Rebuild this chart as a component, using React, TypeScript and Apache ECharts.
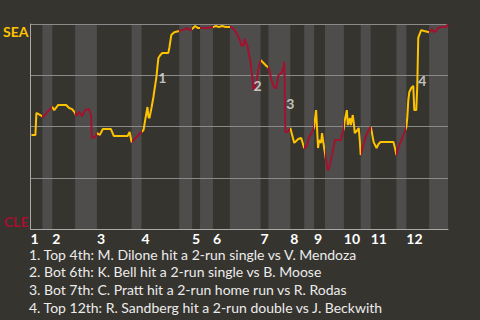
import React, { useEffect, useRef } from "react";
import * as echarts from "echarts";

// Game progress units (0..421) and SEA win probability (%)
const inningStarts = [0, 22, 67, 112, 163, 184, 232, 262, 286, 316, 343, 379];
const bottomStarts = [12, 45, 102, 150, 171, 201, 240, 276, 297, 333, 369, 402];
const gameEnd = 421;
const inningLabels = ["1", "2", "3", "4", "5", "6", "7", "8", "9", "10", "11", "12"];

const progress = [
  1, 5, 6, 10, 13, 17, 22,
  24, 28, 36, 39, 42, 45,
  46, 49, 52, 55, 59, 61, 62, 65, 66,
  67, 70, 73, 81, 84, 98, 100, 102,
  107, 111,
  114, 116, 118, 119, 120, 122, 124, 125, 127, 128, 129, 131, 133, 139, 140, 142, 145, 150,
  153, 158, 161, 163,
  166, 169, 171,
  178, 184,
  187, 190, 193, 197, 201,
  203, 208, 211, 213, 215, 216, 219, 221, 222, 223, 224, 225, 227, 229, 230, 232,
  235, 238, 240,
  243, 245, 246, 248, 250, 253, 255, 256, 257, 259, 261, 262,
  266, 270, 273, 276,
  278, 281, 285, 286,
  287, 288, 290, 291, 293, 294, 296,
  298, 300, 301, 303, 305, 307, 313, 315, 316,
  317, 319, 320, 322, 323, 325, 326, 327, 329, 331, 332, 333,
  335, 338, 341, 343,
  344, 346, 349, 351, 353, 366, 368, 369,
  371, 375, 378, 379,
  380, 381, 382, 384, 386, 387, 389, 390, 391, 392, 394, 397, 402,
  405, 407, 409, 411, 413, 419, 421,
];

const winProb = [
  45.9, 45.9, 56.6, 55.6, 54.6, 57.1, 59.5,
  58, 60.5, 60.5, 59, 58.5, 56.6,
  55.1, 57.1, 55.1, 58, 58.5, 55.6, 44.4, 44.9, 45.4,
  46.8, 45.9, 48.8, 48.8, 45.4, 45.4, 47.3, 42.4,
  44.9, 46.8,
  48.3, 54.1, 59.5, 54.6, 54.1, 59, 64.4, 67.8, 74.1, 79, 83.4, 84.9, 85.9, 85.9, 88.3, 94.6, 96, 96.6,
  97, 98, 97, 97.6,
  99, 98, 98,
  98, 98.5,
  99, 98.5, 99, 98.5, 98.5,
  98.5, 95.6, 92.2, 89.3, 89.8, 92.7, 88.8, 83.9, 81, 76.6, 72.7, 67.8, 69.8, 75.1, 78.5, 82.4,
  81, 79.5, 79,
  72.7, 70.2, 68.8, 68.8, 75.1, 76.1, 78.5, 81.5, 47.3, 47.3, 48.3, 49.3,
  42, 43.9, 44.4, 39.5,
  40, 44.9, 48.3, 49.8,
  54.1, 58, 39.5, 43.4, 42, 46.8, 40,
  33.7, 28.8, 29.3, 33.7, 38.5, 43.4, 43.4, 47.3, 49.3,
  53.2, 58, 50.7, 54.1, 50.7, 55.6, 51.7, 46.8, 47.8, 49.3, 43.4, 36.1,
  40, 44.9, 48.3, 49.8,
  47.8, 42.4, 39.5, 41.5, 42.4, 42.4, 38.5, 36.1,
  40, 44.4, 48.3, 49.8,
  54.6, 62.9, 66.8, 68.8, 69.8, 58, 58, 69.3, 93.2, 94.6, 97, 96.6, 96,
  97.6, 96, 96.6, 98, 98.5, 98.5, 100,
];

const markerNames = ["1", "2", "3", "4"];
const markerProgress = [133, 229, 262, 395];
const markerProb = [74.1, 70.2, 61, 72.2];

const annotations = [
  "1. Top 4th: M. Dilone hit a 2-run single vs V. Mendoza",
  "2. Bot 6th: K. Bell hit a 2-run single vs B. Moose",
  "3. Bot 7th: C. Pratt hit a 2-run home run vs R. Rodas",
  "4. Top 12th: R. Sandberg hit a 2-run double vs J. Beckwith",
];

const SEA_COLOR = "#fdc300";
const CLE_COLOR = "#a3112f";
const FONT = "Lato, 'Noto Sans', sans-serif";

export default function App() {
  const ref = useRef<HTMLDivElement>(null);

  useEffect(() => {
    if (!ref.current) return;
    const chart = echarts.init(ref.current, undefined, { renderer: "svg" });

    const pieces: any[] = [];
    inningStarts.forEach((s, i) => {
      const next = i + 1 < inningStarts.length ? inningStarts[i + 1] : gameEnd + 1;
      pieces.push({ gte: s, lt: bottomStarts[i], color: SEA_COLOR });
      pieces.push({ gte: bottomStarts[i], lt: next, color: CLE_COLOR });
    });

    const bands = bottomStarts.map((s, i) => [
      s,
      i + 1 < inningStarts.length ? inningStarts[i + 1] : gameEnd,
    ]);

    const lineData = progress.map((p, i) => [p, winProb[i]]);
    const markerData = markerNames.map((n, i) => ({
      name: n,
      value: [markerProgress[i], markerProb[i]],
    }));

    const option: any = {
      animation: false,
      backgroundColor: "#36342f",
      textStyle: { fontFamily: FONT },
      grid: { left: 27, right: 32, top: 24, bottom: 91 },
      xAxis: {
        type: "value",
        min: 0,
        max: gameEnd,
        axisLine: { show: true, lineStyle: { color: "#a9a9a9", width: 1 } },
        axisTick: { show: false },
        splitLine: { show: false },
        axisLabel: {
          customValues: inningStarts,
          formatter: (v: number) => {
            const idx = inningStarts.indexOf(v);
            return idx >= 0 ? inningLabels[idx] : "";
          },
          align: "left",
          color: "#ffffff",
          fontWeight: "bold",
          fontSize: 14,
          lineHeight: 12,
          fontFamily: FONT,
          margin: 3,
          padding: [0, 0, 0, 0],
        },
      },
      yAxis: {
        type: "value",
        min: 0,
        max: 100,
        interval: 25,
        axisLine: { show: true, lineStyle: { color: "#a9a9a9", width: 1 } },
        axisTick: { show: false },
        splitLine: { show: true, lineStyle: { color: "#8a8a8a", width: 1 } },
        axisLabel: {
          margin: 2,
          formatter: (v: number) =>
            v === 100 ? "{sea|SEA}" : v === 0 ? "{cle|CLE}" : "",
          rich: {
            sea: {
              color: SEA_COLOR,
              fontWeight: "bold",
              fontSize: 14,
              fontFamily: FONT,
              padding: [14, 0, 0, 0],
            },
            cle: {
              color: CLE_COLOR,
              fontWeight: "bold",
              fontSize: 14,
              fontFamily: FONT,
              padding: [0, 0, 16, 0],
            },
          },
        },
      },
      visualMap: {
        type: "piecewise",
        show: false,
        dimension: 0,
        seriesIndex: 1,
        pieces,
      },
      series: [
        {
          type: "custom",
          z: -1,
          silent: true,
          data: bands,
          encode: { x: [0, 1] },
          renderItem: (params: any, api: any) => {
            const p1 = api.coord([api.value(0), 100]);
            const p2 = api.coord([api.value(1), 0]);
            return {
              type: "rect",
              shape: { x: p1[0], y: p1[1], width: p2[0] - p1[0], height: p2[1] - p1[1] + 1 },
              style: { fill: "#4e4d4b" },
            };
          },
        },
        {
          type: "line",
          data: lineData,
          showSymbol: false,
          symbol: "none",
          lineStyle: { width: 2 },
          z: 3,
        },
        {
          type: "scatter",
          data: markerData,
          symbolSize: 0,
          z: 4,
          label: {
            show: true,
            position: "inside",
            formatter: (p: any) => p.name,
            color: "#e6e6e6",
            fontWeight: "bold",
            fontSize: 14,
            fontFamily: FONT,
          },
        },
      ],
      graphic: [
        {
          type: "group",
          left: 29,
          top: 247,
          children: annotations.map((t, i) => ({
            type: "text",
            x: 0,
            y: i * 17.7,
            style: {
              text: t,
              fill: "#ececec",
              font: `14px ${FONT}`,
              lineHeight: 14,
              verticalAlign: "top",
            },
          })),
        },
      ],
    };

    chart.setOption(option);
    return () => chart.dispose();
  }, []);

  return (
    <div
      ref={ref}
      style={{ position: "fixed", left: 0, top: 0, width: 480, height: 320 }}
    />
  );
}
